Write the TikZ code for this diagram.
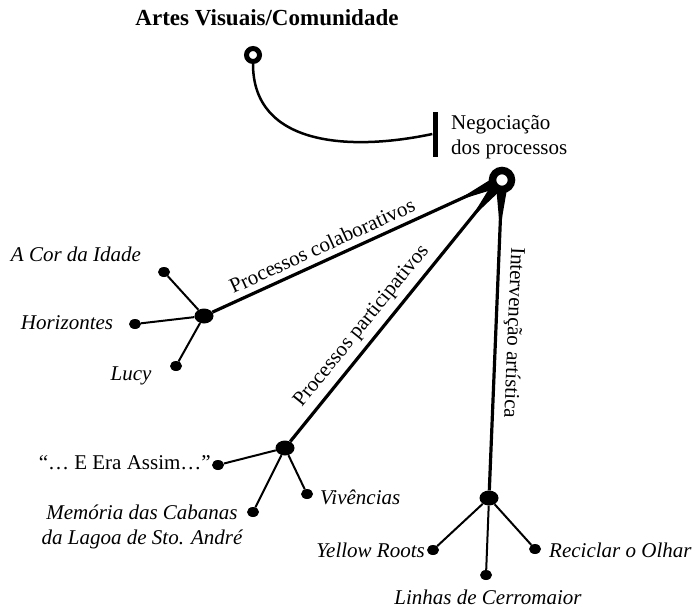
\documentclass[tikz,border=0pt]{standalone}
\usepackage{fontspec}
\setmainfont{Liberation Serif}
\usetikzlibrary{calc,backgrounds,shapes.geometric}

\begin{document}
\begin{tikzpicture}[x=1pt,y=-1pt,>=stealth]

    \tikzstyle{commonText}=[font=\fontsize{21}{25}\selectfont, inner sep=2pt, align=left]
    \tikzstyle{leafText}=[commonText, font=\fontsize{21}{25}\selectfont\itshape]
    \tikzstyle{edgeText}=[commonText, sloped, inner sep=6pt]
    \tikzstyle{ringNode}=[circle, draw=black, fill=white, inner sep=0pt]
    \tikzstyle{hubDot}=[ellipse, fill=black, minimum width=19pt, minimum height=15pt, inner sep=0pt]
    \tikzstyle{leafDot}=[ellipse, fill=black, minimum width=12pt, minimum height=10pt, inner sep=0pt]
    \tikzstyle{branch}=[line width=3.2pt]
    \tikzstyle{twig}=[line width=2pt]

    \useasboundingbox (0,0) rectangle (693,613);

    % Title and negotiation
    \node at (267,18) [commonText, font=\fontsize{23}{27}\selectfont\bfseries] (title) {Artes Visuais/Comunidade};
    \node at (253,55) [ringNode, line width=5pt, minimum size=13pt] (topRing) {};
    \node at (435,134) [rectangle, fill=black, minimum width=5pt, minimum height=45pt, inner sep=0pt] (negBar) {};
    \node at (449,137) [commonText, anchor=west] (neg) {Negocia\c{c}\~ao\\dos processos};
    \draw[line width=2.5pt] (topRing) to[out=-90, in=192, looseness=1.1] (negBar.west);

    % Hub and the three branches
    \node at (502,180) [ringNode, line width=7.5pt, minimum size=19pt] (hub) {};
    \node at (204,316) [hubDot] (colab) {};
    \node at (285,448) [hubDot] (partic) {};
    \node at (489,498) [hubDot] (interv) {};

    % Leaves
    \node at (164,272) [leafDot] (cor) {};
    \node at (135,324) [leafDot] (hori) {};
    \node at (176,366) [leafDot] (lucy) {};
    \node at (218,465) [leafDot] (era) {};
    \node at (253,512) [leafDot] (mem) {};
    \node at (307,494) [leafDot] (viv) {};
    \node at (433,550) [leafDot] (yel) {};
    \node at (486,575) [leafDot] (lin) {};
    \node at (535,549) [leafDot] (rec) {};

    % Leaf labels
    \node at (76,254)  [leafText] (corText)  {A Cor da Idade};
    \node at (67,323)  [leafText] (horiText) {Horizontes};
    \node at (131,376) [leafText] (lucyText) {Lucy};
    \node at (213,463) [commonText, anchor=east] (eraText) {``\ldots\ E Era Assim\ldots''};
    \node at (142,527) [leafText, align=center] (memText) {Mem\'oria das Cabanas\\da Lagoa de Sto. Andr\'e};
    \node at (318,497) [leafText, anchor=west] (vivText)  {Viv\^encias};
    \node at (427,550) [leafText, anchor=east] (yelText)  {Yellow Roots};
    \node at (488,597) [leafText] (linText)  {Linhas de Cerromaior};
    \node at (547,550) [leafText, anchor=west] (recText)  {Reciclar o Olhar};

    \begin{pgfonlayer}{background}
        % main branches
        \draw[branch] (colab) -- node[edgeText, pos=0.4, above] {Processos colaborativos} (hub.center);
        \draw[branch] (partic) -- node[edgeText, pos=0.4, above] {Processos participativos} (hub.center);
        \draw[branch] (hub.center) -- node[edgeText, pos=0.49, above, allow upside down] {Interven\c{c}\~ao art\'istica} (interv);
        \foreach \sub in {colab,partic,interv}
            \fill ($(hub.center)!6.5pt!90:(\sub)$) -- ($(hub.center)!50pt!(\sub)$) -- ($(hub.center)!6.5pt!-90:(\sub)$) -- cycle;

        % twigs
        \foreach \leaf in {cor,hori,lucy}
            \draw[twig] (colab) -- (\leaf);
        \foreach \leaf in {era,mem,viv}
            \draw[twig] (partic) -- (\leaf);
        \foreach \leaf in {yel,lin,rec}
            \draw[twig] (interv) -- (\leaf);
    \end{pgfonlayer}
\end{tikzpicture}
\end{document}
